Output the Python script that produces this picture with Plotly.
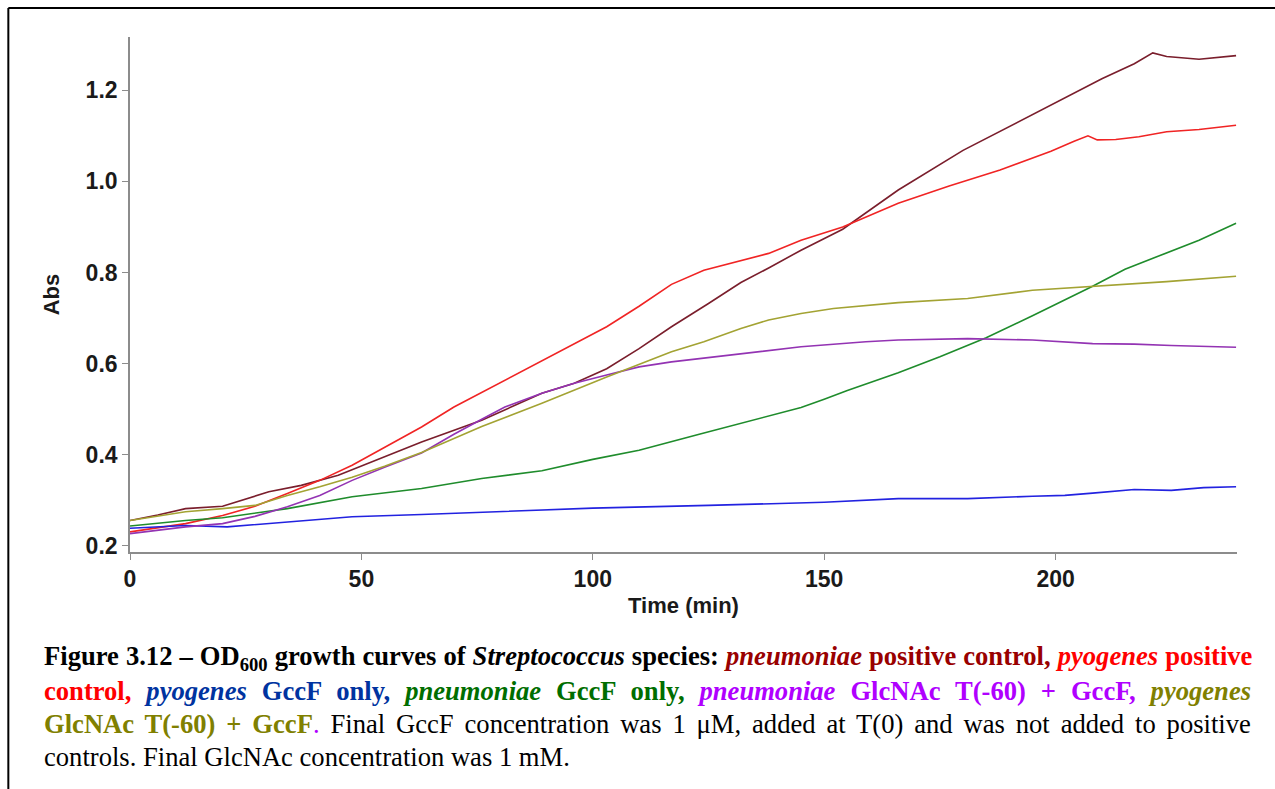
import plotly.graph_objects as go

# ---------------------------------------------------------------------------
# OD600 readings (Abs) against time (min)
# ---------------------------------------------------------------------------
pneu_ctrl_t = [0, 6, 12, 20, 30, 37, 45, 52, 63, 76, 89, 96, 103, 110, 117, 125,
               132, 138, 145, 154, 166, 180, 188, 200, 210, 217, 221, 224, 231, 239]
pneu_ctrl_abs = [0.256, 0.268, 0.282, 0.287, 0.319, 0.333, 0.355, 0.384, 0.428, 0.476,
                 0.535, 0.557, 0.589, 0.633, 0.681, 0.732, 0.778, 0.810, 0.849, 0.895,
                 0.981, 1.068, 1.110, 1.172, 1.225, 1.258, 1.282, 1.274, 1.268, 1.276]

pyo_ctrl_t = [0, 12, 20, 27, 34, 41, 48, 55, 63, 70, 76, 81, 89, 96, 103, 110, 117,
              124, 132, 138, 145, 154, 166, 177, 188, 199, 204, 207, 209, 213, 218,
              224, 231, 239]
pyo_ctrl_abs = [0.231, 0.249, 0.267, 0.287, 0.315, 0.344, 0.377, 0.417, 0.461, 0.505,
                0.537, 0.565, 0.607, 0.645, 0.681, 0.726, 0.774, 0.805, 0.827, 0.842,
                0.871, 0.900, 0.952, 0.990, 1.025, 1.066, 1.088, 1.100, 1.091, 1.092,
                1.098, 1.109, 1.114, 1.123]

pyo_gccf_t = [0, 12, 21, 34, 48, 63, 76, 100, 125, 150, 166, 181, 195, 202, 208,
              217, 225, 232, 239]
pyo_gccf_abs = [0.239, 0.245, 0.242, 0.253, 0.264, 0.269, 0.274, 0.283, 0.289, 0.296,
                0.304, 0.304, 0.309, 0.311, 0.316, 0.324, 0.322, 0.328, 0.330]

pneu_gccf_t = [0, 12, 20, 34, 48, 63, 76, 89, 100, 110, 123, 132, 145, 150, 155, 166,
               175, 185, 195, 208, 215, 222, 231, 239]
pneu_gccf_abs = [0.244, 0.256, 0.262, 0.282, 0.308, 0.326, 0.348, 0.365, 0.390, 0.410,
                 0.445, 0.469, 0.504, 0.522, 0.541, 0.580, 0.615, 0.657, 0.705, 0.770,
                 0.807, 0.835, 0.871, 0.908]

pneu_glc_t = [0, 12, 20, 27, 34, 41, 48, 55, 63, 70, 76, 81, 89, 96, 103, 110, 117,
              124, 132, 145, 159, 166, 181, 195, 208, 217, 225, 232, 239]
pneu_glc_abs = [0.227, 0.242, 0.249, 0.265, 0.286, 0.311, 0.344, 0.373, 0.404, 0.445,
                0.478, 0.505, 0.535, 0.557, 0.575, 0.593, 0.604, 0.612, 0.622, 0.637,
                0.648, 0.652, 0.655, 0.652, 0.644, 0.643, 0.640, 0.638, 0.636]

pyo_glc_t = [0, 12, 20, 27, 34, 41, 48, 55, 63, 76, 89, 103, 117, 124, 132, 138, 145,
             152, 166, 181, 195, 208, 224, 239]
pyo_glc_abs = [0.256, 0.275, 0.282, 0.289, 0.311, 0.330, 0.351, 0.375, 0.405, 0.462,
               0.513, 0.571, 0.626, 0.648, 0.677, 0.696, 0.710, 0.721, 0.734, 0.743,
               0.761, 0.769, 0.780, 0.792]

x_ticks = [0, 50, 100, 150, 200]
y_ticks = [0.2, 0.4, 0.6, 0.8, 1.0, 1.2]

# line colour for each culture
series = [
    ("S. pneumoniae positive control", pneu_ctrl_t, pneu_ctrl_abs, "#7a1e2c"),
    ("S. pyogenes positive control", pyo_ctrl_t, pyo_ctrl_abs, "#f02424"),
    ("S. pyogenes GccF only", pyo_gccf_t, pyo_gccf_abs, "#2222e0"),
    ("S. pneumoniae GccF only", pneu_gccf_t, pneu_gccf_abs, "#1f8c2c"),
    ("S. pneumoniae GlcNAc T(-60) + GccF", pneu_glc_t, pneu_glc_abs, "#9333b3"),
    ("S. pyogenes GlcNAc T(-60) + GccF", pyo_glc_t, pyo_glc_abs, "#a3a333"),
]

# caption colours
TXT_MAROON = "#990000"
TXT_RED = "#ff0000"
TXT_BLUE = "#0033a0"
TXT_GREEN = "#006e00"
TXT_PURPLE = "#b000ff"
TXT_OLIVE = "#808000"

# ---------------------------------------------------------------------------
W, H = 1275, 789
M_L, M_R, M_T, M_B = 129.7, 38, 37, 237.3
PW = W - M_L - M_R
PH = H - M_T - M_B


def px(xp):
    return (xp - M_L) / PW


def py(yp):
    return (H - M_B - yp) / PH


fig = go.Figure()
for name, t, a, c in series:
    fig.add_trace(go.Scatter(x=t, y=a, mode="lines", name=name,
                             line=dict(color=c, width=1.6)))

axis_font = dict(family="Liberation Sans, Arial", size=23, color="#1a1a1a", weight="bold")
title_font = dict(family="Liberation Sans, Arial", size=22, color="#1a1a1a", weight="bold")
axis_common = dict(showline=True, linecolor="#8c8c8c", linewidth=1.6,
                   ticks="outside", ticklen=6, tickwidth=1.4, tickcolor="#8c8c8c",
                   showgrid=False, zeroline=False, tickfont=axis_font, automargin=False)

fig.update_xaxes(range=[0, 239.2], tickvals=x_ticks, ticktext=[str(v) for v in x_ticks],
                 title=dict(text="Time (min)", font=title_font, standoff=6), **axis_common)
fig.update_yaxes(range=[0.1868, 1.3168], tickvals=y_ticks,
                 ticktext=[f"{v:.1f}" for v in y_ticks],
                 title=dict(text="Abs", font=title_font, standoff=20), **axis_common)


def col(c, s):
    return f'<span style="color:{c}">{s}</span>'


def spaced(ws, s):
    return f'<span style="word-spacing:{ws}px">{s}</span>'


caption_lines = [
    spaced(0.4, "<b>Figure 3.12 – OD<sub>600</sub> growth curves of <i>Streptococcus</i> species: </b>"
           + col(TXT_MAROON, "<b><i>pneumoniae</i> positive control,</b> ")
           + col(TXT_RED, "<b><i>pyogenes</i> positive</b>")),
    spaced(8.3, col(TXT_RED, "<b>control,</b> ")
           + col(TXT_BLUE, "<b><i>pyogenes</i> GccF only,</b> ")
           + col(TXT_GREEN, "<b><i>pneumoniae</i> GccF only,</b> ")
           + col(TXT_PURPLE, "<b><i>pneumoniae</i> GlcNAc T(-60) + GccF,</b> ")
           + col(TXT_OLIVE, "<b><i>pyogenes</i></b>")),
    spaced(4.25, col(TXT_OLIVE, "<b>GlcNAc T(-60) + GccF</b>") + col(TXT_PURPLE, ".")
           + " Final GccF concentration was 1 μM, added at T(0) and was not added to positive"),
    "controls. Final GlcNAc concentration was 1 mM.",
]
caption_y = [658, 691, 724, 757]

annotations = []
for txt, yc in zip(caption_lines, caption_y):
    annotations.append(dict(
        text=txt, xref="paper", yref="paper", x=px(42), y=py(yc),
        xanchor="left", yanchor="middle", showarrow=False, align="left",
        font=dict(family="Liberation Serif, Times New Roman", size=26.6, color="#000000"),
    ))

# figure frame (left and top edges)
shapes = [
    dict(type="line", xref="paper", yref="paper", x0=px(8), x1=px(8), y0=py(8), y1=py(800),
         line=dict(color="#000000", width=2)),
    dict(type="line", xref="paper", yref="paper", x0=px(8), x1=px(1290), y0=py(8), y1=py(8),
         line=dict(color="#000000", width=2)),
]

fig.update_layout(
    width=W, height=H,
    margin=dict(l=M_L, r=M_R, t=M_T, b=M_B, autoexpand=False),
    paper_bgcolor="white", plot_bgcolor="white",
    showlegend=False,
    annotations=annotations,
    shapes=shapes,
)

fig.write_html("out.html")
